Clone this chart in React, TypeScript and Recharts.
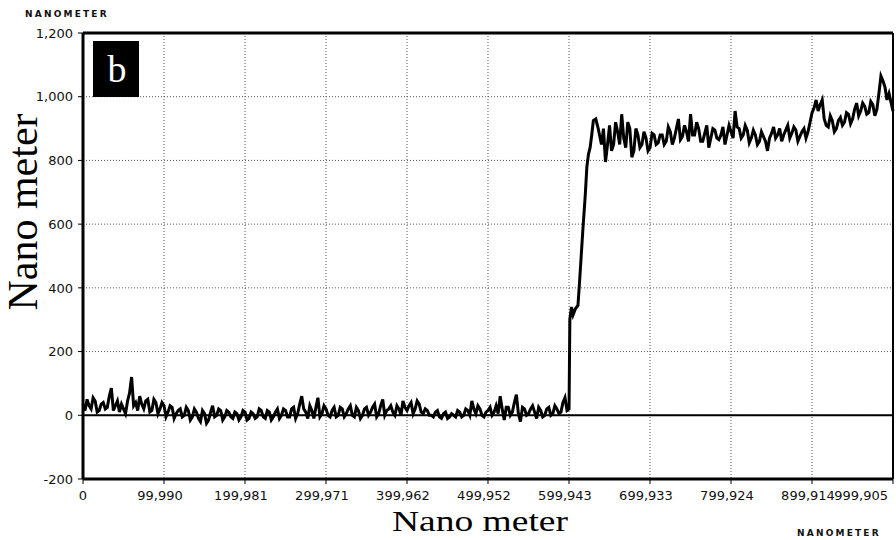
import React from "react";
import { LineChart, Line, XAxis, YAxis, CartesianGrid, ReferenceLine } from "recharts";

// Sampling interval of the regularly sampled parts of the profile (nm)
const SAMPLE_STEP = 5000;
const HALF_STEP = 2500;

// Height (nm) of the low side, samples at 0, 5000, ... 600000 nm
const baselineHeights = [
  35, 50, 20, 45, 15, 40, 25, 85, 30, 10, 20, 45, 120, 40, 60, 20, 50, 15, 40, 20,
  30, 10, 25, 5, 20, 0, 15, -5, 10, -20, 5, -15, 30, 0, 15, -5, 10, -10, 5, -5,
  10, -10, 5, -5, 15, -10, 10, -5, 20, 0, 15, -5, 25, 5, 60, 10, 30, -10, 55, 5,
  20, -5, 25, 0, 20, 5, 30, -5, 15, 0, 25, 10, 35, 5, 50, 15, 30, 0, 20, 45,
  15, 40, 20, 35, 5, 15, 0, 10, -5, 5, -10, 5, -5, 10, 0, 15, 45, 5, 20, -5,
  15, 0, 30, 60, -15, 25, 10, 65, -20, 20, 5, 30, -10, 15, 0, 25, 5, 20, 10, 55,
  20,
];
// Height (nm) of the low side, samples at 2500, 7500, ... 597500 nm
const baselineMidHeights = [
  15, 30, 55, 10, 35, 20, 60, 15, 45, 35, 5, 70, 30, 15, 35, 45, 10, 50, 5, 40,
  -5, 30, -10, 15, -5, 25, -15, 20, -10, 15, -25, 10, -5, 20, -15, 15, -5, 10, -15, 15,
  -15, 10, -10, 20, -5, 15, -15, 10, -10, 20, -5, 20, -10, 35, 20, -10, 15, 25, -5, 30,
  0, 15, -5, 25, -5, 20, 0, 25, -10, 20, 0, 25, -5, 30, 0, 20, 10, 30, 0, 25,
  30, 5, 45, 10, 20, 0, -5, 15, -10, 10, -5, 0, 15, -5, 20, 0, 20, 30, 0, 10,
  25, 10, 5, 20, 25, 0, 40, 5, 25, 0, 20, 10, 25, -5, 20, 0, 30, 5, 40, 15,
];

// The step edge, irregular positions (nm) and heights (nm)
const stepPositions = [601000, 603000, 605000, 608000, 611000, 613000, 615000, 617000, 620000, 622000, 624000, 626000, 628000, 630000, 633000, 636000];
const stepHeights = [300, 340, 315, 335, 345, 420, 500, 580, 690, 780, 820, 840, 880, 925, 930, 900];

// Height (nm) of the high side, samples at 640000, 645000, ... 995000 nm
const PLATEAU_START = 640000;
const plateauHeights = [
  850, 795, 910, 850, 890, 945, 840, 900, 830, 880, 850, 870, 840, 880, 855,
  880, 860, 890, 870, 930, 875, 890, 945, 880, 900, 860, 910, 870, 895, 865, 905, 880, 890, 955,
  900, 880, 895, 870, 880, 860, 875, 830, 885, 870, 900, 880, 910, 885, 895, 875, 900, 890,
  950, 990, 975, 930, 905, 925, 900, 935, 920, 945, 930, 980, 955, 970, 950, 975, 960, 1065, 1030, 1010,
];
// Height (nm) of the high side, samples at 642500, 647500, ... 992500 nm
const plateauMidHeights = [
  900, 850, 830, 920, 850, 870, 920, 810, 900, 840, 890, 830, 885, 850, 880,
  850, 905, 850, 900, 865, 910, 860, 880, 920, 860, 885, 840, 900, 870, 880, 850, 910, 870, 905,
  870, 910, 855, 895, 850, 890, 860, 870, 905, 880, 860, 895, 870, 905, 860, 890, 870, 920,
  965, 955, 990, 910, 940, 890, 925, 910, 950, 915, 960, 940, 980, 945, 985, 940, 1010, 1050, 990,
];

const endPosition = 999905;
const endHeight = 955;

const xTicks = [0, 99990, 199981, 299971, 399962, 499952, 599943, 699933, 799924, 899914, 999905];
const yTicks = [-200, 0, 200, 400, 600, 800, 1000, 1200];

const data = [
  ...baselineHeights.map((y, i) => ({ x: i * SAMPLE_STEP, y })),
  ...baselineMidHeights.map((y, i) => ({ x: i * SAMPLE_STEP + HALF_STEP, y })),
  ...stepPositions.map((x, i) => ({ x, y: stepHeights[i] })),
  ...plateauHeights.map((y, i) => ({ x: PLATEAU_START + i * SAMPLE_STEP, y })),
  ...plateauMidHeights.map((y, i) => ({ x: PLATEAU_START + i * SAMPLE_STEP + HALF_STEP, y })),
  { x: endPosition, y: endHeight },
].sort((a, b) => a.x - b.x);

const fmt = (v: number) => v.toLocaleString("en-US");
const TICK_FONT = "'DejaVu Sans', Verdana, sans-serif";

const XTick = (props: any) => {
  const { x, y, payload } = props;
  const v = payload.value;
  const isLast = v === xTicks[xTicks.length - 1];
  const isFirst = v === 0;
  return (
    <text
      x={isLast ? x - 5 : isFirst ? x : x - 4}
      y={y}
      dy="0.71em"
      textAnchor={isLast ? "end" : "middle"}
      fontSize={13}
      fontFamily={TICK_FONT}
      fill="#111"
    >
      {fmt(v)}
    </text>
  );
};

const YTick = (props: any) => {
  const { x, y, payload } = props;
  return (
    <text x={x} y={y} dy="0.36em" textAnchor="end" fontSize={13} fontFamily={TICK_FONT} fill="#111">
      {fmt(payload.value)}
    </text>
  );
};

export default function App() {
  return (
    <div style={{ position: "absolute", left: 0, top: 0, width: 896, height: 540, background: "#fff" }}>
      <LineChart width={896} height={540} data={data} margin={{ top: 33, right: 3, bottom: 0, left: 0 }}>
        <CartesianGrid stroke="#555" strokeDasharray="1 2" strokeWidth={1} />
        <XAxis
          dataKey="x"
          type="number"
          domain={[0, 999905]}
          ticks={xTicks}
          interval={0}
          height={61}
          tick={<XTick />}
          tickSize={5}
          tickMargin={7}
          axisLine={{ stroke: "#000", strokeWidth: 3 }}
          tickLine={{ stroke: "#000" }}
        />
        <YAxis
          type="number"
          domain={[-200, 1200]}
          ticks={yTicks}
          interval={0}
          width={83}
          tick={<YTick />}
          tickSize={5}
          tickMargin={5}
          axisLine={{ stroke: "#000", strokeWidth: 3 }}
          tickLine={{ stroke: "#000" }}
        />
        <ReferenceLine y={1200} stroke="#000" strokeWidth={3} />
        <ReferenceLine x={999905} stroke="#000" strokeWidth={2} />
        <ReferenceLine y={0} stroke="#000" strokeWidth={2} />
        <Line
          type="linear"
          dataKey="y"
          stroke="#000"
          strokeWidth={3}
          dot={false}
          isAnimationActive={false}
        />
      </LineChart>
      <svg
        width={896}
        height={540}
        style={{ position: "absolute", left: 0, top: 0, pointerEvents: "none" }}
      >
        <text x={25} y={17} fontSize={9} fontWeight={700} letterSpacing={2.2} fontFamily="'DejaVu Sans', sans-serif" fill="#111">
          NANOMETER
        </text>
        <text x={797} y={536} fontSize={9} fontWeight={700} letterSpacing={2.2} fontFamily="'DejaVu Sans', sans-serif" fill="#111">
          NANOMETER
        </text>
        <rect x={93} y={41} width={46} height={56} fill="#000" />
        <text x={117} y={82} textAnchor="middle" fontSize={38} fontFamily="'Liberation Serif', 'Times New Roman', serif" fill="#fff">
          b
        </text>
        <text
          transform="translate(37,212) rotate(-90)"
          textAnchor="middle"
          fontSize={42}
          fontFamily="'Liberation Serif', 'Times New Roman', serif"
          fill="#000"
        >
          Nano meter
        </text>
        <text
          x={392}
          y={531}
          fontSize={29}
          textLength={176}
          lengthAdjust="spacingAndGlyphs"
          fontFamily="'Liberation Serif', 'Times New Roman', serif"
          fill="#000"
        >
          Nano meter
        </text>
      </svg>
    </div>
  );
}
